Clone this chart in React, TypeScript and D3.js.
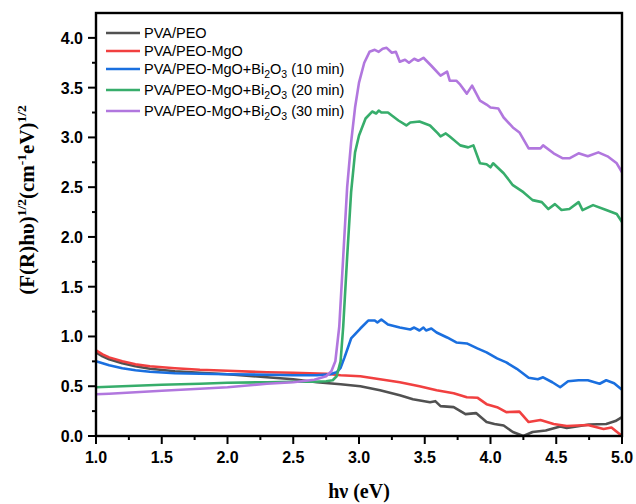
import React from "react";
import * as d3 from "d3";

const seriesNames = [
  "PVA/PEO",
  "PVA/PEO-MgO",
  "PVA/PEO-MgO+Bi2O3 (10 min)",
  "PVA/PEO-MgO+Bi2O3 (20 min)",
  "PVA/PEO-MgO+Bi2O3 (30 min)",
];
const seriesColors = ["#515151", "#F14040", "#1A6FDF", "#37AD6B", "#B177DE"];

const grayX = [1.0,1.05,1.1,1.2,1.3,1.41,1.6,1.79,2.0,2.3,2.5,2.68,2.86,3.01,3.16,3.31,3.41,3.54,3.58,3.62,3.72,3.81,3.89,3.97,4.03,4.10,4.17,4.25,4.32,4.42,4.53,4.58,4.63,4.75,4.88,4.95,5.0];
const grayY = [0.84,0.80,0.77,0.73,0.70,0.675,0.65,0.635,0.62,0.59,0.57,0.54,0.52,0.50,0.46,0.41,0.37,0.34,0.35,0.30,0.29,0.22,0.23,0.14,0.12,0.105,0.04,0.0,0.04,0.055,0.095,0.08,0.09,0.115,0.12,0.15,0.19];

const redX = [1.0,1.05,1.1,1.2,1.3,1.41,1.6,1.79,2.0,2.3,2.5,2.75,2.86,3.01,3.16,3.31,3.46,3.59,3.72,3.82,3.90,3.97,4.05,4.12,4.22,4.29,4.38,4.48,4.58,4.74,4.86,4.92,5.0];
const redY = [0.86,0.82,0.79,0.75,0.72,0.70,0.68,0.665,0.655,0.64,0.635,0.625,0.61,0.60,0.57,0.54,0.50,0.46,0.43,0.39,0.385,0.32,0.29,0.24,0.245,0.14,0.16,0.12,0.10,0.11,0.07,0.085,0.0];

const blueX = [1.0,1.05,1.1,1.2,1.3,1.41,1.6,1.79,2.0,2.3,2.5,2.68,2.78,2.83,2.86,2.89,2.94,3.01,3.07,3.12,3.14,3.17,3.22,3.31,3.39,3.42,3.46,3.49,3.51,3.55,3.59,3.67,3.74,3.82,3.90,3.97,4.05,4.12,4.20,4.29,4.36,4.40,4.47,4.53,4.59,4.67,4.74,4.83,4.88,4.94,5.0];
const blueY = [0.75,0.73,0.71,0.68,0.66,0.645,0.63,0.625,0.62,0.615,0.61,0.61,0.62,0.64,0.685,0.79,0.98,1.08,1.16,1.16,1.14,1.17,1.12,1.09,1.07,1.09,1.06,1.09,1.06,1.08,1.04,0.99,0.94,0.93,0.88,0.84,0.78,0.74,0.675,0.585,0.57,0.59,0.54,0.49,0.55,0.56,0.56,0.525,0.56,0.53,0.465];

const greenX = [1.0,1.2,1.5,1.79,2.0,2.3,2.5,2.66,2.75,2.80,2.83,2.86,2.88,2.91,2.94,2.97,3.00,3.05,3.10,3.13,3.15,3.17,3.22,3.26,3.30,3.36,3.39,3.46,3.54,3.60,3.62,3.66,3.69,3.77,3.83,3.87,3.92,3.97,4.0,4.02,4.10,4.17,4.25,4.32,4.39,4.44,4.49,4.54,4.60,4.67,4.70,4.78,4.88,4.96,5.0];
const greenY = [0.49,0.50,0.515,0.525,0.535,0.54,0.545,0.545,0.55,0.56,0.6,0.75,1.1,1.8,2.45,2.85,3.02,3.19,3.26,3.24,3.27,3.25,3.25,3.21,3.17,3.12,3.15,3.16,3.12,3.04,3.01,3.04,3.01,2.92,2.90,2.92,2.74,2.73,2.70,2.74,2.64,2.52,2.45,2.37,2.35,2.28,2.33,2.27,2.28,2.35,2.27,2.32,2.27,2.23,2.15];

const purpleX = [1.0,1.1,1.3,1.5,1.79,2.0,2.3,2.5,2.66,2.75,2.79,2.82,2.85,2.88,2.91,2.94,2.97,3.00,3.04,3.08,3.12,3.15,3.18,3.21,3.25,3.28,3.31,3.35,3.38,3.42,3.45,3.49,3.55,3.62,3.67,3.69,3.74,3.77,3.82,3.86,3.92,3.97,4.0,4.06,4.10,4.17,4.22,4.29,4.38,4.40,4.48,4.55,4.60,4.67,4.74,4.82,4.89,4.96,5.0];
const purpleY = [0.42,0.425,0.44,0.455,0.475,0.49,0.525,0.54,0.565,0.60,0.65,0.75,1.1,1.8,2.5,2.95,3.3,3.55,3.75,3.86,3.88,3.86,3.89,3.90,3.85,3.86,3.76,3.78,3.75,3.79,3.77,3.80,3.72,3.62,3.66,3.57,3.57,3.53,3.44,3.52,3.37,3.33,3.30,3.29,3.20,3.10,3.05,2.89,2.89,2.92,2.84,2.79,2.79,2.84,2.81,2.85,2.81,2.74,2.65];

const xTicks = [1.0,1.5,2.0,2.5,3.0,3.5,4.0,4.5,5.0];
const yTicks = [0.0,0.5,1.0,1.5,2.0,2.5,3.0,3.5,4.0];

const W = 636, H = 504;
const L = 96, R = 622, T = 13, B = 436;

export default function App() {
  const x = d3.scaleLinear().domain([1, 5]).range([L, R]);
  const y = d3.scaleLinear().domain([0, 4.25]).range([B, T]);
  const line = d3.line<[number, number]>().x(d => x(d[0])).y(d => y(d[1]));
  const seriesData: [number, number][][] = [
    grayX.map((v, i) => [v, grayY[i]]),
    redX.map((v, i) => [v, redY[i]]),
    blueX.map((v, i) => [v, blueY[i]]),
    greenX.map((v, i) => [v, greenY[i]]),
    purpleX.map((v, i) => [v, purpleY[i]]),
  ];
  const xMinor = d3.range(1.25, 5, 0.5);
  const yMinor = d3.range(0.25, 4.25, 0.5);
  const legendY = [33, 51, 69, 90, 111];
  const fmt = d3.format(".1f");
  const sans = "'Liberation Sans', Arial, sans-serif";
  const serif = "'Liberation Serif', 'Times New Roman', serif";

  const renderLabel = (name: string) => {
    if (name.includes("Bi2O3")) {
      const suffix = name.split("Bi2O3")[1];
      return (
        <>
          {"PVA/PEO-MgO+Bi"}
          <tspan dy={4} fontSize={10.5}>2</tspan>
          <tspan dy={-4}>O</tspan>
          <tspan dy={4} fontSize={10.5}>3</tspan>
          <tspan dy={-4}>{suffix}</tspan>
        </>
      );
    }
    return name;
  };

  return (
    <svg width={W} height={H} style={{ position: "absolute", left: 0, top: 0, background: "#fff" }}>
      {seriesData.map((d, i) => (
        <path key={i} d={line(d) || ""} fill="none" stroke={seriesColors[i]} strokeWidth={2.6} strokeLinejoin="round" />
      ))}
      <rect x={L} y={T} width={R - L} height={B - T} fill="none" stroke="#000" strokeWidth={2.4} />
      {xTicks.map(t => (
        <g key={"x" + t}>
          <line x1={x(t)} x2={x(t)} y1={B} y2={B + 8} stroke="#000" strokeWidth={2} />
          <text x={x(t)} y={B + 27} textAnchor="middle" fontFamily={sans} fontWeight="bold" fontSize={16}>{fmt(t)}</text>
        </g>
      ))}
      {xMinor.map(t => (
        <line key={"xm" + t} x1={x(t)} x2={x(t)} y1={B} y2={B + 4} stroke="#000" strokeWidth={2} />
      ))}
      {yTicks.map(t => (
        <g key={"y" + t}>
          <line x1={L - 8} x2={L} y1={y(t)} y2={y(t)} stroke="#000" strokeWidth={2} />
          <text x={L - 13} y={y(t) + 6} textAnchor="end" fontFamily={sans} fontWeight="bold" fontSize={16}>{fmt(t)}</text>
        </g>
      ))}
      {yMinor.map(t => (
        <line key={"ym" + t} x1={L - 4} x2={L} y1={y(t)} y2={y(t)} stroke="#000" strokeWidth={2} />
      ))}
      {seriesNames.map((n, i) => (
        <g key={"lg" + i}>
          <line x1={106} x2={140} y1={legendY[i]} y2={legendY[i]} stroke={seriesColors[i]} strokeWidth={2.6} />
          <text x={144} y={legendY[i] + 5} fontFamily={sans} fontSize={14.5}>{renderLabel(n)}</text>
        </g>
      ))}
      <text x={(L + R) / 2} y={498} textAnchor="middle" fontFamily={serif} fontWeight="bold" fontSize={20}>hν (eV)</text>
      <text transform="translate(34,200) rotate(-90)" textAnchor="middle" fontFamily={serif} fontWeight="bold" fontSize={21}>
        {"(F(R)hυ)"}
        <tspan dy={-8} fontSize={13.5}>1/2</tspan>
        <tspan dy={8}>(cm</tspan>
        <tspan dy={-8} fontSize={13.5}>-1</tspan>
        <tspan dy={8}>eV)</tspan>
        <tspan dy={-8} fontSize={13.5}>1/2</tspan>
      </text>
    </svg>
  );
}
